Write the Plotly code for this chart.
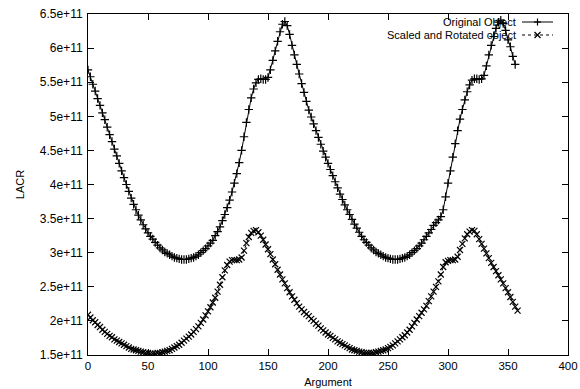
import plotly.graph_objects as go

# Argument values (degrees), step 2
argument = list(range(0, 360, 2))

# "Original Object" LACR values, in units of 1e11
original = [
    5.68, 5.58, 5.47, 5.37, 5.26, 5.16, 5.05, 4.95, 4.84, 4.73,
    4.63, 4.52, 4.42, 4.31, 4.20, 4.10, 4.00, 3.90, 3.80, 3.71,
    3.63, 3.55, 3.48, 3.41, 3.35, 3.29, 3.24, 3.20, 3.15, 3.11,
    3.07, 3.04, 3.01, 2.99, 2.97, 2.95, 2.93, 2.92, 2.91, 2.90,
    2.90, 2.90, 2.91, 2.92, 2.93, 2.95, 2.97, 3.00, 3.03, 3.06,
    3.10, 3.14, 3.18, 3.25, 3.31, 3.38, 3.47, 3.56, 3.66, 3.77,
    3.89, 4.02, 4.16, 4.32, 4.50, 4.70, 4.91, 5.10, 5.27, 5.40,
    5.49, 5.54, 5.55, 5.54, 5.54, 5.57, 5.68, 5.82, 5.96, 6.10,
    6.24, 6.35, 6.39, 6.33, 6.20, 6.04, 5.90, 5.76, 5.62, 5.48,
    5.35, 5.22, 5.09, 4.99, 4.89, 4.79, 4.69, 4.59, 4.49, 4.40,
    4.31, 4.22, 4.13, 4.04, 3.95, 3.86, 3.78, 3.70, 3.63, 3.56,
    3.49, 3.42, 3.36, 3.30, 3.24, 3.19, 3.15, 3.11, 3.07, 3.04,
    3.01, 2.99, 2.97, 2.95, 2.93, 2.92, 2.91, 2.90, 2.90, 2.90,
    2.91, 2.92, 2.93, 2.95, 2.97, 3.00, 3.03, 3.06, 3.10, 3.14,
    3.19, 3.24, 3.29, 3.34, 3.40, 3.44, 3.48, 3.53, 3.63, 3.82,
    4.02, 4.20, 4.40, 4.60, 4.79, 4.96, 5.10, 5.24, 5.36, 5.46,
    5.53, 5.55, 5.55, 5.54, 5.55, 5.60, 5.74, 5.90, 6.04, 6.17,
    6.29, 6.38, 6.41, 6.36, 6.26, 6.12, 6.02, 5.88, 5.76,
]

# "Scaled and Rotated object" LACR values, in units of 1e11
scaled = [
    2.09, 2.05, 2.01, 1.98, 1.94, 1.91, 1.87, 1.84, 1.81, 1.78,
    1.76, 1.73, 1.71, 1.69, 1.67, 1.65, 1.63, 1.61, 1.59, 1.58,
    1.57, 1.56, 1.55, 1.54, 1.53, 1.53, 1.52, 1.52, 1.52, 1.53,
    1.53, 1.54, 1.55, 1.56, 1.57, 1.59, 1.61, 1.63, 1.65, 1.68,
    1.71, 1.74, 1.77, 1.80, 1.84, 1.88, 1.92, 1.97, 2.02, 2.08,
    2.14, 2.20, 2.27, 2.34, 2.43, 2.53, 2.64, 2.74, 2.82, 2.87,
    2.89, 2.89, 2.89, 2.90, 2.93, 3.03, 3.14, 3.23, 3.29, 3.32,
    3.33, 3.30, 3.25, 3.19, 3.12, 3.05, 2.98, 2.90, 2.83, 2.75,
    2.68, 2.61, 2.55, 2.48, 2.42, 2.36, 2.31, 2.26, 2.21, 2.17,
    2.13, 2.10, 2.07, 2.03, 2.00, 1.96, 1.93, 1.89, 1.86, 1.83,
    1.80, 1.78, 1.75, 1.73, 1.70, 1.68, 1.66, 1.64, 1.62, 1.60,
    1.58, 1.57, 1.56, 1.55, 1.54, 1.53, 1.53, 1.53, 1.53, 1.53,
    1.54, 1.55, 1.56, 1.57, 1.58, 1.60, 1.62, 1.64, 1.67, 1.70,
    1.73, 1.76, 1.79, 1.83, 1.87, 1.92, 1.97, 2.02, 2.07, 2.12,
    2.17, 2.22, 2.29, 2.36, 2.43, 2.50, 2.58, 2.68, 2.79, 2.86,
    2.88, 2.89, 2.89, 2.90, 2.94, 3.04, 3.13, 3.21, 3.27, 3.31,
    3.33, 3.32, 3.27, 3.20, 3.13, 3.06, 2.99, 2.92, 2.85, 2.79,
    2.73, 2.67, 2.61, 2.55, 2.48, 2.42, 2.35, 2.28, 2.21, 2.15,
]

series_names = ["Original Object", "Scaled and Rotated object"]

SCALE = 1e11

x_ticks = [0, 50, 100, 150, 200, 250, 300, 350, 400]
y_tickvals = [1.5, 2, 2.5, 3, 3.5, 4, 4.5, 5, 5.5, 6, 6.5]
y_ticktext = ["1.5e+11", "2e+11", "2.5e+11", "3e+11", "3.5e+11", "4e+11",
              "4.5e+11", "5e+11", "5.5e+11", "6e+11", "6.5e+11"]

FONT = "Liberation Sans, Arial, sans-serif"

fig = go.Figure()
fig.add_trace(go.Scatter(
    x=argument, y=[v * SCALE for v in original], mode="lines+markers",
    name=series_names[0],
    line=dict(color="black", width=1),
    marker=dict(symbol="cross-thin", size=6, line=dict(color="black", width=1.2)),
))
fig.add_trace(go.Scatter(
    x=argument, y=[v * SCALE for v in scaled], mode="lines+markers",
    name=series_names[1],
    line=dict(color="black", width=1, dash="3px,3px"),
    marker=dict(symbol="x-thin", size=6, line=dict(color="black", width=1.2)),
))

# gnuplot-style key: text right-aligned, line sample (with point) on the right
ML, MR, MT, MB = 88, 12, 14, 34
PW, PH = 580 - ML - MR, 389 - MT - MB


def px_x(p):
    return (p - ML) / PW


def px_y(p):
    return 1 - (p - MT) / PH


key_rows = [22.0, 35.0]
key_text_right = 517
key_line = (522, 553)
key_mark = 537.5
key_dash = ["solid", "3px,3px"]
key_symbols = [
    [(-3.5, 0, 3.5, 0), (0, -3.5, 0, 3.5)],
    [(-3, -3, 3, 3), (-3, 3, 3, -3)],
]

annotations = []
shapes = []
for i, name in enumerate(series_names):
    yy = px_y(key_rows[i])
    annotations.append(dict(
        text=name, xref="paper", yref="paper", x=px_x(key_text_right), y=yy,
        xanchor="right", yanchor="middle", showarrow=False, borderpad=0,
        font=dict(family=FONT, size=11, color="black"),
    ))
    shapes.append(dict(
        type="line", xref="paper", yref="paper",
        x0=px_x(key_line[0]), x1=px_x(key_line[1]), y0=yy, y1=yy,
        line=dict(color="black", width=1, dash=key_dash[i]),
    ))
    for (ax0, ay0, ax1, ay1) in key_symbols[i]:
        shapes.append(dict(
            type="line", xref="paper", yref="paper",
            xsizemode="pixel", ysizemode="pixel",
            xanchor=px_x(key_mark), yanchor=yy,
            x0=ax0, x1=ax1, y0=ay0, y1=ay1,
            line=dict(color="black", width=1.2),
        ))

fig.update_layout(
    width=580, height=389,
    margin=dict(l=ML, r=MR, t=MT, b=MB),
    paper_bgcolor="white", plot_bgcolor="white",
    font=dict(family=FONT, size=11.5, color="black"),
    showlegend=False,
    annotations=annotations,
    shapes=shapes,
)
fig.update_xaxes(
    range=[0, 400], tickvals=x_ticks, ticktext=[str(t) for t in x_ticks],
    showgrid=False, zeroline=False, automargin=False,
    showline=True, linecolor="black", linewidth=1, mirror="ticks",
    ticks="inside", ticklen=6, tickcolor="black",
    tickfont=dict(family=FONT, size=11.5),
    title=dict(text="Argument", standoff=7, font=dict(family=FONT, size=11)),
)
fig.update_yaxes(
    range=[1.5 * SCALE, 6.5 * SCALE],
    tickvals=[v * SCALE for v in y_tickvals], ticktext=y_ticktext,
    showgrid=False, zeroline=False, automargin=False,
    showline=True, linecolor="black", linewidth=1, mirror="ticks",
    ticks="inside", ticklen=6, tickcolor="black", ticklabelstandoff=2,
    tickfont=dict(family=FONT, size=12),
    title=dict(text="LACR", standoff=12, font=dict(family=FONT, size=11)),
)

fig.write_html("out.html")
